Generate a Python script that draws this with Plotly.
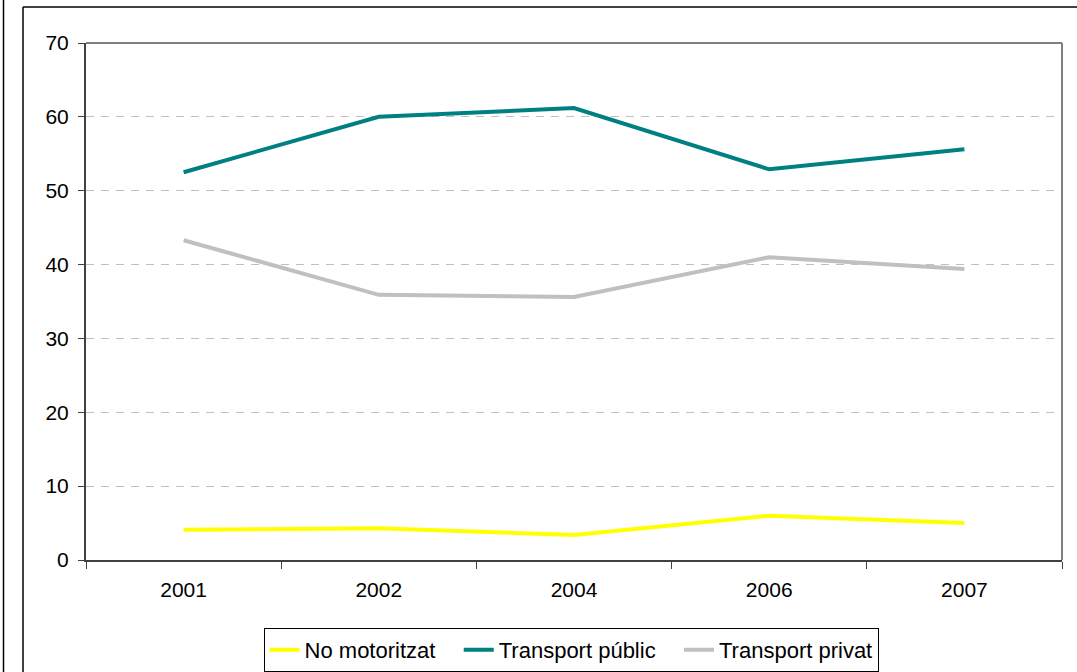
import plotly.graph_objects as go

years = ["2001", "2002", "2004", "2006", "2007"]
no_motoritzat = [4.1, 4.3, 3.4, 6.0, 5.0]
transport_public = [52.5, 60.0, 61.2, 52.9, 55.6]
transport_privat = [43.3, 35.9, 35.6, 41.0, 39.4]

W, H = 1077, 672
L, R, T, B = 86, 15, 43, 112
pw, ph = W - L - R, H - T - B

def px(x):
    return (x - L) / pw

def py(y):
    return (H - B - y) / ph

fig = go.Figure()
pad = "\u00a0\u00a0\u00a0"
series = [
    ("No motoritzat" + pad, no_motoritzat, "#FFFF00"),
    ("Transport públic" + pad, transport_public, "#008080"),
    ("Transport privat", transport_privat, "#C0C0C0"),
]
for name, vals, col in series:
    fig.add_trace(go.Scatter(x=years, y=vals, name=name, mode="lines",
                             line=dict(color=col, width=4)))

font = "Liberation Sans, Arial, sans-serif"
fig.update_layout(
    width=W, height=H,
    margin=dict(l=L, r=R, t=T, b=B, autoexpand=False),
    paper_bgcolor="white", plot_bgcolor="white",
    font=dict(family=font, size=21, color="black"),
    showlegend=True,
    legend=dict(orientation="h", x=0.497, xanchor="center", y=py(628), yanchor="top",
                bordercolor="black", borderwidth=1, bgcolor="white",
                font=dict(size=22), itemwidth=30, tracegroupgap=0),
    xaxis=dict(type="category", range=[-0.5, 4.5], showgrid=False,
               ticks="outside", tickson="boundaries", ticklen=7, tickcolor="#404040",
               showline=True, linecolor="#404040", linewidth=2, mirror=False,
               tickfont=dict(size=21), automargin=False, ticklabelstandoff=10),
    yaxis=dict(range=[0, 70], dtick=10, showgrid=True, gridcolor="#C0C0C0",
               griddash="8px,7px", gridwidth=1, ticks="outside", ticklen=6,
               tickcolor="#404040", showline=True, linecolor="#404040", linewidth=2,
               zeroline=False, tickfont=dict(size=21), automargin=False,
               ticklabelstandoff=5),
    shapes=[
        dict(type="line", xref="paper", yref="paper", x0=0, x1=1, y0=1, y1=1,
             line=dict(color="#808080", width=2)),
        dict(type="line", xref="paper", yref="paper", x0=1, x1=1, y0=0, y1=1,
             line=dict(color="#808080", width=2)),
        dict(type="line", xref="paper", yref="paper", x0=px(23), x1=px(1090),
             y0=py(7), y1=py(7), line=dict(color="black", width=1.5)),
        dict(type="line", xref="paper", yref="paper", x0=px(23), x1=px(23),
             y0=py(7), y1=py(690), line=dict(color="black", width=1.5)),
        dict(type="line", xref="paper", yref="paper", x0=px(3.5), x1=px(3.5),
             y0=py(-10), y1=py(690), line=dict(color="black", width=1.5)),
    ],
)

fig.write_html("out.html", config={"displayModeBar": False},
               post_script="document.body.style.margin='0px';")
